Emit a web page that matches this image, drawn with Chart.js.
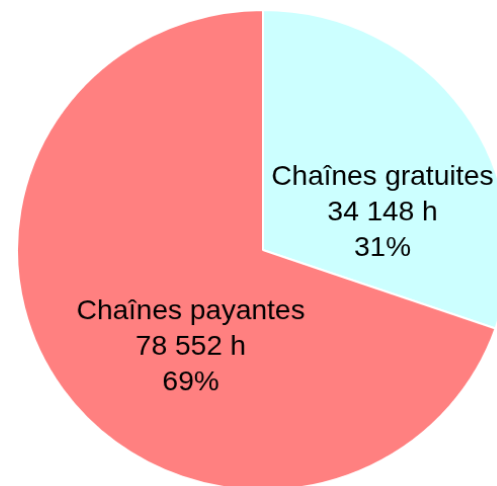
<!DOCTYPE html>
<html>
<head>
<meta charset="utf-8">
<script src="https://cdn.jsdelivr.net/npm/chart.js@4/dist/chart.umd.min.js"></script>
<style>
  html, body { margin: 0; padding: 0; background: #fff; overflow: hidden; width: 497px; height: 486px; }
  #wrap { position: absolute; left: 16px; top: 9px; width: 494px; height: 482px; }
  #pie { width: 494px; height: 482px; }
</style>
</head>
<body>
<div id="wrap"><canvas id="pie" width="488" height="488" style="width:494px;height:482px"></canvas></div>
<script>
// Data
const categories = ['Chaînes gratuites', 'Chaînes payantes'];
const hours = [34148, 78552];
const hourLabels = ['34 148 h', '78 552 h'];
const percentLabels = ['31%', '69%'];
const sliceColors = ['#CCFFFF', '#FF8080'];

// where each label sits inside its slice: angle (deg, 0 = right, clockwise) and fraction of radius
const labelAngles = [-17.7, 126];
const labelRadius = [0.51, 0.5];

const sliceLabels = {
  id: 'sliceLabels',
  afterDatasetsDraw(chart) {
    const ctx = chart.ctx;
    const meta = chart.getDatasetMeta(0);
    ctx.save();
    ctx.font = '28px "Liberation Sans", Arial, sans-serif';
    ctx.fillStyle = '#000';
    ctx.textAlign = 'center';
    ctx.textBaseline = 'middle';
    meta.data.forEach((arc, i) => {
      const a = labelAngles[i] * Math.PI / 180;
      const r = arc.outerRadius * labelRadius[i];
      const cx = arc.x + Math.cos(a) * r;
      const cy = arc.y + Math.sin(a) * r;
      const lines = [categories[i], hourLabels[i], percentLabels[i]];
      lines.forEach((t, k) => {
        ctx.fillText(t, cx, cy + (k - 1) * 36);
      });
    });
    ctx.restore();
  }
};

new Chart(document.getElementById('pie'), {
  type: 'pie',
  data: {
    labels: categories,
    datasets: [{
      data: hours,
      backgroundColor: sliceColors,
      borderColor: '#fff',
      borderWidth: 2
    }]
  },
  options: {
    responsive: false,
    animation: false,
    layout: { padding: 0 },
    plugins: {
      legend: { display: false },
      tooltip: { enabled: false }
    }
  },
  plugins: [sliceLabels]
});
</script>
</body>
</html>
